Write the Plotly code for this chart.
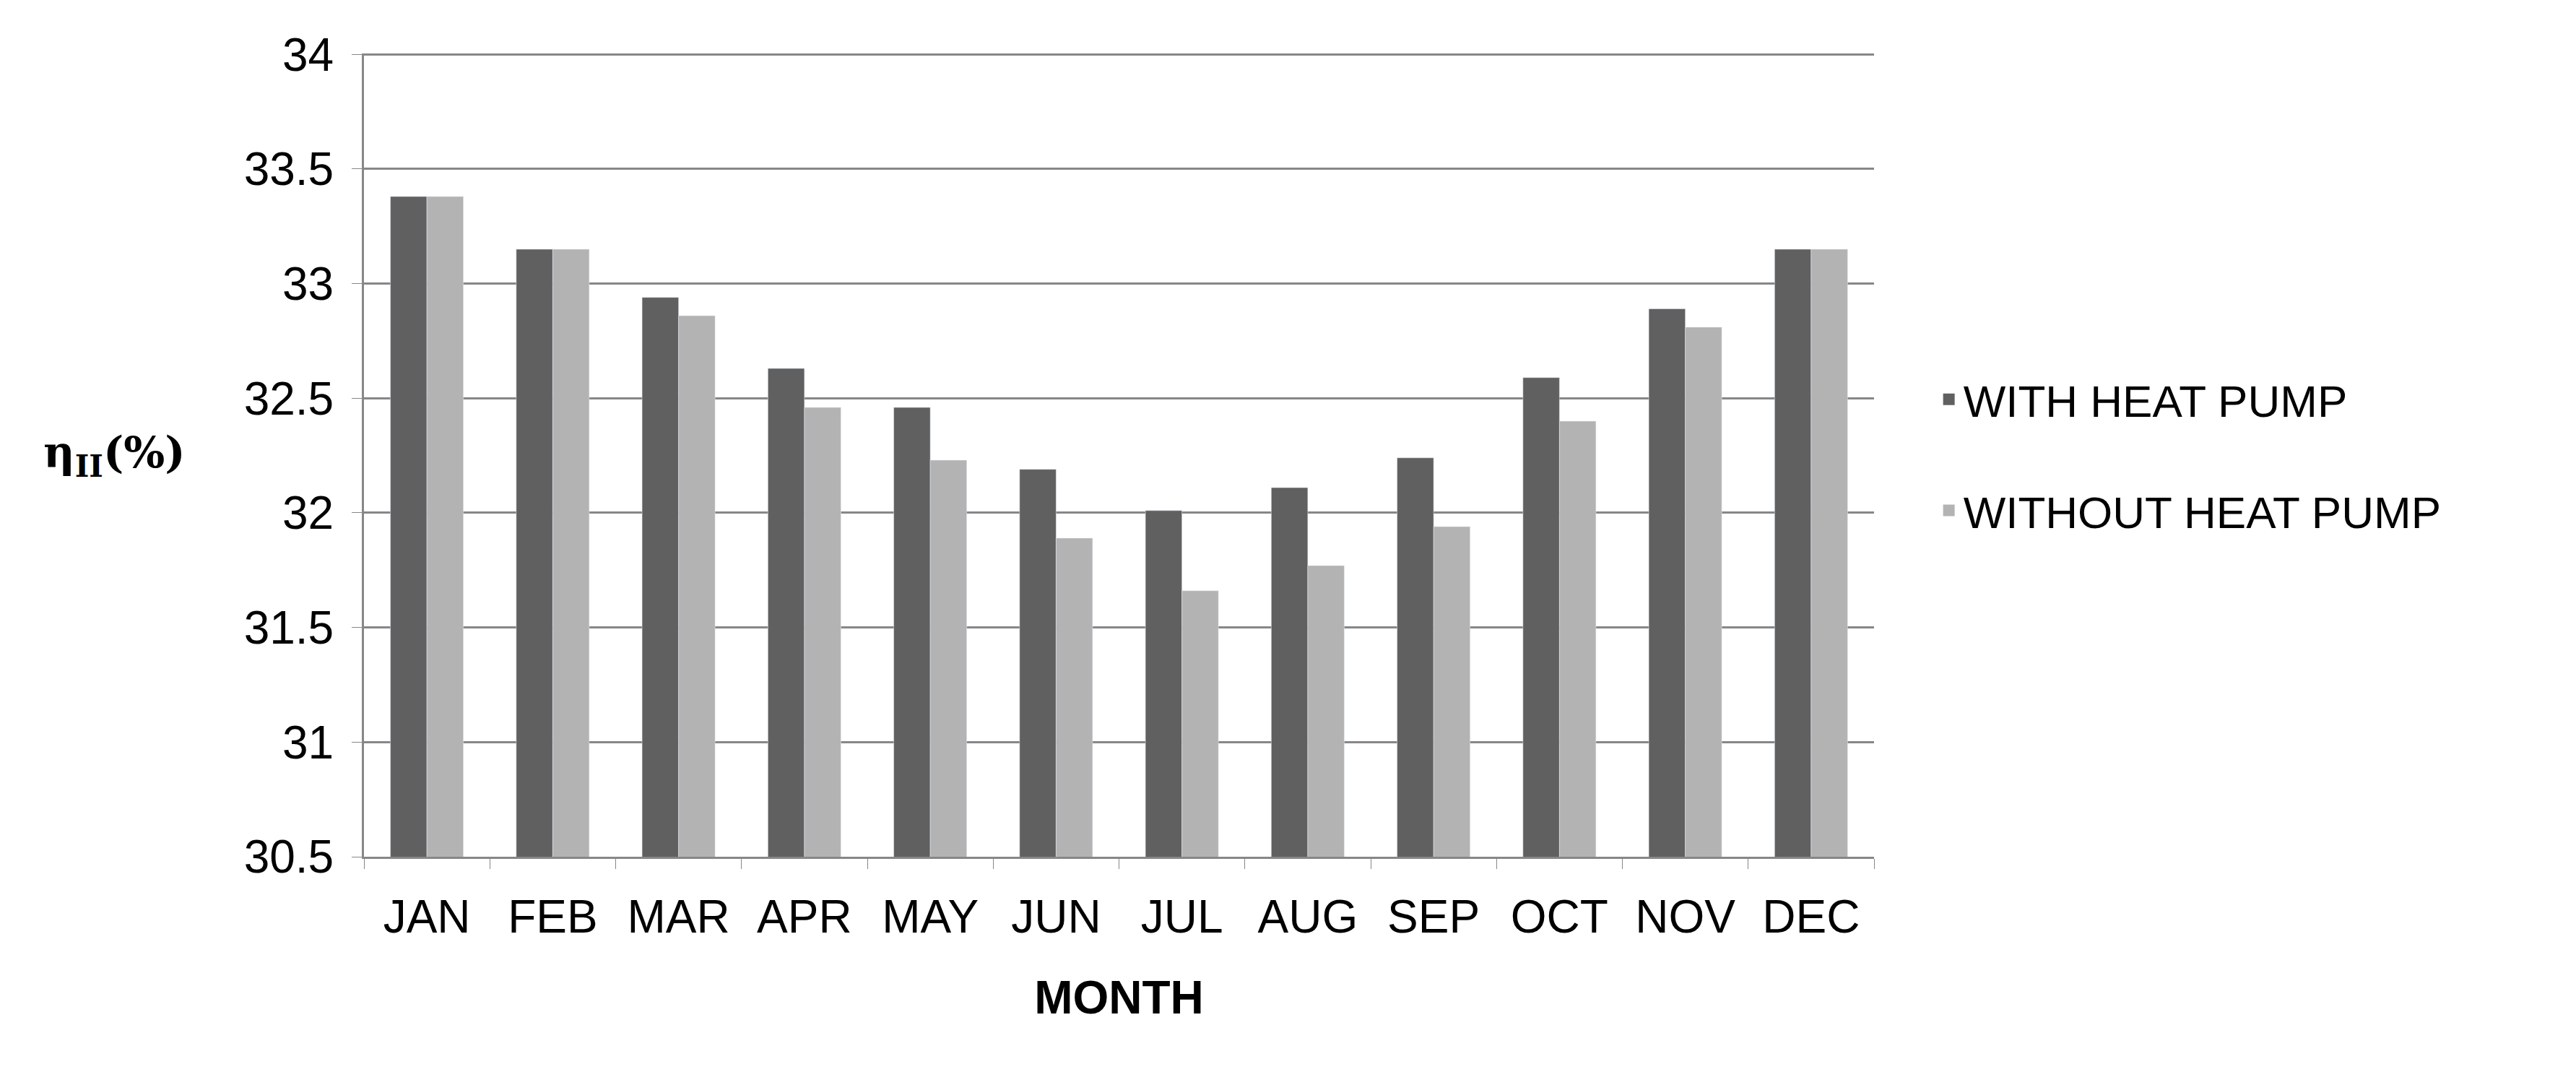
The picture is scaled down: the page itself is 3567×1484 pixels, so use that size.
import plotly.graph_objects as go

months = ["JAN","FEB","MAR","APR","MAY","JUN","JUL","AUG","SEP","OCT","NOV","DEC"]
with_hp = [33.38,33.15,32.94,32.63,32.46,32.19,32.01,32.11,32.24,32.59,32.89,33.15]
without_hp = [33.38,33.15,32.86,32.46,32.23,31.89,31.66,31.77,31.94,32.40,32.81,33.15]
yticks = [30.5, 31, 31.5, 32, 32.5, 33, 33.5, 34]
yticklabels = ["30.5", "31", "31.5", "32", "32.5", "33", "33.5", "34"]
names = ["WITH HEAT PUMP", "WITHOUT HEAT PUMP"]
colors = ["#606060", "#b3b3b3"]

fig = go.Figure()
for n, vals, c in zip(names, [with_hp, without_hp], colors):
    fig.add_bar(x=months, y=vals, name=n, marker_color=c, showlegend=False)
for i, (n, c) in enumerate(zip(names, colors)):
    fig.add_scatter(x=[None], y=[None], mode="markers", name=n, legendgroup=str(i),
                    marker=dict(symbol="square", size=38, color=c))

font = "Liberation Sans"
fig.update_layout(
    width=3567, height=1484, paper_bgcolor="white", plot_bgcolor="white",
    barmode="group", bargap=0.42, bargroupgap=0,
    margin=dict(l=496, r=980, t=66, b=306),
    font=dict(family=font, size=64, color="black"),
    legend=dict(x=1.04, y=0.5, yanchor="middle", xanchor="left",
                font=dict(size=62), tracegroupgap=70),
    xaxis=dict(tickson="boundaries", ticks="outside", ticklen=14, tickcolor="#878787",
               showline=True, linecolor="#878787", linewidth=3, ticklabelstandoff=25,
               title=dict(text="<b>MONTH</b>", font=dict(size=64), standoff=55)),
    yaxis=dict(range=[30.5, 34.004], tickvals=yticks, ticktext=yticklabels, showgrid=True,
               gridcolor="#878787", gridwidth=3, ticks="outside", ticklen=14,
               tickcolor="#878787", showline=True, linecolor="#878787", linewidth=3,
               zeroline=False, ticklabelstandoff=12),
)
fig.add_annotation(text="<b>η<sub>II</sub>(%)</b>", xref="paper", yref="paper",
                   x=-0.165, y=0.5, showarrow=False, xanchor="center",
                   font=dict(family="DejaVu Serif", size=60))
fig.write_html("out.html")
